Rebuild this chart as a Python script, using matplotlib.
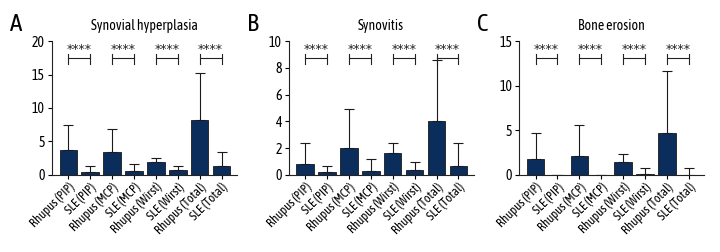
"""Rhupus vs SLE ultrasound scores, three bar panels"""

import numpy as np
import matplotlib.pyplot as plt

# global inputs
CATEGORIES = ['Rhupus (PIP)', 'SLE (PIP)', 'Rhupus (MCP)', 'SLE (MCP)',
              'Rhupus (Wirst)', 'SLE (Wirst)', 'Rhupus (Total)', 'SLE (Total)']

TITLES = ['Synovial hyperplasia', 'Synovitis', 'Bone erosion']
LETTERS = ['A', 'B', 'C']

# bar means and upper error ends
HYPERPLASIA_MEAN = [3.7, 0.5, 3.4, 0.6, 1.9, 0.75, 8.2, 1.35]
HYPERPLASIA_TOP = [7.4, 1.3, 6.8, 1.6, 2.5, 1.3, 15.2, 3.4]
SYNOVITIS_MEAN = [0.8, 0.25, 2.0, 0.3, 1.6, 0.35, 4.0, 0.7]
SYNOVITIS_TOP = [2.35, 0.65, 4.95, 1.2, 2.35, 1.0, 8.55, 2.4]
EROSION_MEAN = [1.8, 0.0, 2.1, 0.0, 1.4, 0.15, 4.7, 0.0]
EROSION_TOP = [4.65, 0.0, 5.6, 0.0, 2.3, 0.75, 11.6, 0.75]

Y_MAX = [20, 10, 15]
Y_TICKS = [[0, 5, 10, 15, 20], [0, 2, 4, 6, 8, 10], [0, 5, 10, 15]]

PAIRS = [(0, 1), (2, 3), (4, 5), (6, 7)]
STARS = '****'

BAR_COLOR = '#0b2d5b'
LEFTS = [0.072, 0.401, 0.721]
WIDTH = 0.257

plt.rcParams['font.family'] = ['Asap Condensed', 'DejaVu Sans']

means = [HYPERPLASIA_MEAN, SYNOVITIS_MEAN, EROSION_MEAN]
tops = [HYPERPLASIA_TOP, SYNOVITIS_TOP, EROSION_TOP]

fig = plt.figure(figsize=(7.2, 2.52), dpi=100)

for i in range(3):
    ax = fig.add_axes([LEFTS[i], 0.306, WIDTH, 0.531])
    x = np.arange(len(CATEGORIES))
    m = np.array(means[i])
    err = np.array(tops[i]) - m
    ax.bar(x, m, width=0.8, color=BAR_COLOR, edgecolor='#1a1a1a', linewidth=0.6, zorder=2)
    ax.errorbar(x, m, yerr=[np.zeros_like(err), err], fmt='none', ecolor='#1a1a1a',
                elinewidth=0.8, capsize=3.5, capthick=0.8, zorder=1)

    # significance brackets
    ymax = Y_MAX[i]
    for a, b in PAIRS:
        yl = ymax * 0.87
        ax.plot([a, b], [yl, yl], color='#222222', lw=0.8, clip_on=False)
        for xe in (a, b):
            ax.plot([xe, xe], [yl - ymax * 0.04, yl + ymax * 0.03], color='#222222',
                    lw=0.8, clip_on=False)
        ax.text((a + b) / 2, ymax * 0.94, STARS, ha='center', va='center', fontsize=9,
                color='#222222', family='DejaVu Sans')

    ax.set_xlim(-0.75, 7.7)
    ax.set_ylim(0, ymax)
    ax.set_yticks(Y_TICKS[i])
    ax.set_xticks(x)
    ax.set_xticklabels(CATEGORIES, rotation=45, ha='right', rotation_mode='anchor', fontsize=9)
    ax.tick_params(axis='y', labelsize=10, length=3, width=0.8, pad=2)
    ax.tick_params(axis='x', length=3, width=0.8, pad=1)
    for side in ['top', 'right']:
        ax.spines[side].set_visible(False)
    for side in ['left', 'bottom']:
        ax.spines[side].set_linewidth(0.8)
        ax.spines[side].set_color('#222222')
    ax.set_title(TITLES[i], fontsize=10, pad=8)
    fig.text(LEFTS[i] - 0.058, 0.95, LETTERS[i], fontsize=18, ha='left', va='top')

fig.savefig('out.png', dpi=100)
